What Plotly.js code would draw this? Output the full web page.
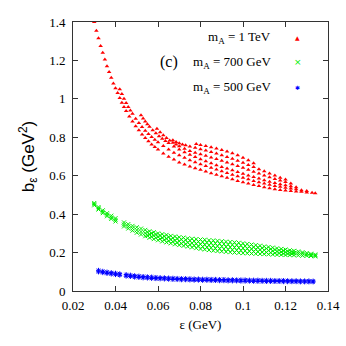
<!DOCTYPE html>
<html>
<head>
<meta charset="utf-8">
<script src="https://cdn.plot.ly/plotly-3.0.1.min.js"></script>
<style>
  html, body { margin: 0; padding: 0; background: #fff; }
  #chart { width: 346px; height: 346px; }
</style>
</head>
<body>
<div id="chart"></div>
<script>
// m_A = 1 TeV : the red band is made of several parallel stripes
const redS1X = [0.030,0.031,0.032,0.033,0.034,0.035,0.036,0.037,0.038,0.039,0.040,0.041,0.042,0.043,0.044,0.045,0.0465,0.048,0.0495,0.051,0.0525,0.054,0.0555,0.057,0.0585,0.060,0.0625,0.065,0.0675,0.070,0.0725,0.075,0.0775,0.080,0.0825,0.085,0.0875,0.090,0.0925,0.095,0.0975,0.100,0.1025,0.105,0.1075,0.110,0.1125,0.115,0.1175,0.120,0.1225,0.125,0.1275,0.130,0.1325,0.134];
const redS1Y = [1.40,1.355,1.315,1.275,1.24,1.205,1.17,1.14,1.11,1.08,1.055,1.03,1.005,0.98,0.958,0.937,0.908,0.882,0.858,0.836,0.815,0.796,0.779,0.763,0.749,0.736,0.716,0.699,0.684,0.669,0.658,0.648,0.639,0.631,0.622,0.613,0.605,0.597,0.589,0.581,0.573,0.566,0.559,0.552,0.546,0.54,0.535,0.53,0.526,0.523,0.52,0.518,0.516,0.513,0.511,0.509];

const redS2X = [0.042,0.043,0.044,0.045,0.046,0.047,0.048,0.0495,0.051,0.0525,0.054,0.0555,0.057,0.0585,0.060,0.0625,0.065,0.0675,0.070,0.0725,0.075,0.0775,0.080,0.0825,0.085,0.0875,0.090,0.0925,0.095,0.0975,0.100,0.1025,0.105,0.1075,0.110,0.1125,0.115,0.1175,0.120,0.1225,0.125,0.1275,0.130];
const redS2Y = [1.05,1.025,1.00,0.978,0.958,0.94,0.922,0.897,0.874,0.853,0.834,0.817,0.801,0.787,0.774,0.754,0.736,0.72,0.706,0.693,0.681,0.67,0.66,0.65,0.641,0.632,0.623,0.614,0.605,0.597,0.589,0.581,0.573,0.566,0.559,0.553,0.547,0.542,0.537,0.533,0.529,0.525,0.521];

const redS3X = [0.052,0.053,0.054,0.055,0.056,0.0575,0.059,0.0605,0.062,0.0635,0.065,0.0675,0.070,0.0725,0.075,0.0775,0.080,0.0825,0.085,0.0875,0.090,0.0925,0.095,0.0975,0.100,0.1025,0.105,0.1075,0.110,0.1125,0.115,0.1175,0.120,0.1225,0.125];
const redS3Y = [0.915,0.898,0.882,0.868,0.855,0.837,0.821,0.806,0.793,0.781,0.77,0.752,0.736,0.722,0.709,0.697,0.686,0.675,0.665,0.655,0.646,0.637,0.628,0.619,0.61,0.601,0.593,0.585,0.577,0.569,0.562,0.556,0.55,0.545,0.54];

const redS4X = [0.0595,0.061,0.0625,0.064,0.0655,0.067,0.0685,0.070,0.0725,0.075,0.0775,0.080,0.0825,0.085,0.0875,0.090,0.0925,0.095,0.0975,0.100,0.1025,0.105,0.1075,0.110,0.1125,0.115,0.1175,0.120,0.1225];
const redS4Y = [0.845,0.826,0.81,0.796,0.783,0.772,0.762,0.753,0.74,0.729,0.72,0.712,0.704,0.695,0.687,0.678,0.669,0.66,0.651,0.641,0.631,0.621,0.611,0.601,0.592,0.583,0.575,0.567,0.56];

const redS5X = [0.067,0.0685,0.070,0.0715,0.073,0.075,0.0775,0.080,0.0825,0.085,0.0875,0.090,0.0925,0.095,0.0975,0.100,0.1025,0.105,0.1075,0.110,0.1125,0.115,0.1175,0.120];
const redS5Y = [0.785,0.776,0.769,0.763,0.758,0.752,0.745,0.738,0.731,0.723,0.715,0.706,0.697,0.688,0.678,0.667,0.656,0.645,0.634,0.623,0.612,0.601,0.59,0.58];

const redS6X = [0.078,0.080,0.0825,0.085,0.0875,0.090,0.0925,0.095,0.0975,0.100,0.1025,0.105];
const redS6Y = [0.765,0.76,0.754,0.748,0.741,0.734,0.726,0.717,0.706,0.694,0.68,0.665];

// m_A = 700 GeV : a wider cloud, typed as five rows
const greenX = [0.030,0.032,0.034,0.036,0.038,0.040,0.044,0.046,0.048,0.050,0.052,0.054,0.056,0.058,0.060,0.062,0.064,0.066,0.068,0.070,0.072,0.074,0.076,0.078,0.080,0.082,0.084,0.086,0.088,0.090,0.092,0.094,0.096,0.098,0.100,0.102,0.104,0.106,0.108,0.110,0.112,0.114,0.116,0.118,0.120,0.122,0.124,0.126,0.128,0.130,0.132,0.134];
const greenMid = [0.452,0.43,0.412,0.397,0.383,0.37,0.346,0.336,0.326,0.317,0.309,0.301,0.294,0.288,0.282,0.277,0.272,0.267,0.263,0.259,0.256,0.252,0.249,0.246,0.243,0.241,0.238,0.236,0.234,0.232,0.23,0.228,0.227,0.225,0.223,0.221,0.219,0.217,0.215,0.213,0.211,0.209,0.206,0.204,0.202,0.2,0.198,0.196,0.194,0.191,0.188,0.185];
const greenHi = [0.458,0.437,0.42,0.405,0.392,0.379,0.357,0.348,0.339,0.332,0.325,0.318,0.311,0.306,0.30,0.296,0.292,0.287,0.284,0.28,0.278,0.274,0.272,0.27,0.268,0.267,0.264,0.263,0.261,0.259,0.257,0.255,0.253,0.251,0.248,0.245,0.242,0.239,0.236,0.232,0.229,0.226,0.222,0.219,0.216,0.212,0.209,0.206,0.202,0.198,0.194,0.19];
const greenLo = [0.446,0.424,0.405,0.389,0.375,0.362,0.336,0.325,0.314,0.303,0.294,0.285,0.277,0.27,0.264,0.258,0.253,0.248,0.243,0.239,0.235,0.231,0.227,0.223,0.219,0.216,0.213,0.21,0.208,0.206,0.204,0.202,0.2,0.199,0.197,0.196,0.195,0.194,0.193,0.192,0.191,0.19,0.189,0.188,0.187,0.187,0.186,0.185,0.184,0.183,0.182,0.18];
const greenX2 = [0.055,0.057,0.059,0.061,0.063,0.065,0.067,0.069,0.071,0.073,0.075,0.077,0.079,0.081,0.083,0.085,0.087,0.089,0.091,0.093,0.095,0.097,0.099,0.101,0.103,0.105,0.107,0.109,0.111,0.113,0.115,0.117,0.119,0.121,0.123];
const greenUpMid = [0.306,0.300,0.294,0.289,0.285,0.281,0.276,0.273,0.269,0.266,0.262,0.26,0.257,0.255,0.252,0.25,0.248,0.246,0.244,0.242,0.24,0.239,0.237,0.234,0.231,0.228,0.226,0.223,0.221,0.218,0.215,0.212,0.21,0.207,0.205];
const greenLoMid = [0.289,0.283,0.277,0.271,0.266,0.261,0.257,0.252,0.248,0.244,0.241,0.237,0.234,0.231,0.228,0.225,0.222,0.22,0.218,0.216,0.214,0.212,0.211,0.209,0.207,0.205,0.204,0.202,0.201,0.199,0.197,0.196,0.194,0.193,0.192];

// m_A = 500 GeV : thin band, two rows
const blueX = [0.032,0.034,0.036,0.038,0.040,0.042,0.045,0.047,0.049,0.051,0.053,0.055,0.057,0.059,0.061,0.063,0.065,0.067,0.069,0.071,0.073,0.075,0.077,0.079,0.081,0.083,0.085,0.087,0.089,0.091,0.093,0.095,0.097,0.099,0.101,0.103,0.105,0.107,0.109,0.111,0.113,0.115,0.117,0.119,0.121,0.123,0.125,0.127,0.129,0.131,0.133];
const blueHi = [0.108,0.103,0.099,0.096,0.093,0.09,0.086,0.083,0.08,0.078,0.076,0.074,0.073,0.071,0.07,0.069,0.068,0.067,0.066,0.065,0.065,0.064,0.063,0.063,0.062,0.062,0.061,0.061,0.06,0.06,0.059,0.059,0.058,0.058,0.058,0.057,0.057,0.057,0.056,0.056,0.056,0.055,0.055,0.055,0.054,0.054,0.054,0.053,0.053,0.053,0.052];
const blueLo = [0.099,0.095,0.091,0.088,0.085,0.082,0.077,0.075,0.072,0.07,0.068,0.067,0.065,0.064,0.063,0.062,0.061,0.06,0.059,0.058,0.058,0.057,0.056,0.056,0.055,0.055,0.054,0.054,0.053,0.053,0.052,0.052,0.052,0.051,0.051,0.051,0.05,0.05,0.05,0.049,0.049,0.049,0.049,0.048,0.048,0.048,0.048,0.047,0.047,0.047,0.047];

const seriesNames = ['m<sub>A</sub> = 1 TeV', 'm<sub>A</sub> = 700 GeV', 'm<sub>A</sub> = 500 GeV'];
const seriesColors = ['#ff0000', '#00ee00', '#0000ff'];

const serif = 'Liberation Serif, Times New Roman, serif';

const redX = [].concat(redS1X, redS2X, redS3X, redS4X, redS5X, redS6X);
const redY = [].concat(redS1Y, redS2Y, redS3Y, redS4Y, redS5Y, redS6Y);
const grnX = [].concat(greenX, greenX, greenX, greenX2, greenX2);
const grnY = [].concat(greenHi, greenMid, greenLo, greenUpMid, greenLoMid);
const bluX = [].concat(blueX, blueX);
const bluY = [].concat(blueHi, blueLo);

const traces = [
  {type:'scatter', mode:'markers', x:redX, y:redY, name:seriesNames[0],
   marker:{symbol:'triangle-up', size:4, color:seriesColors[0]}},
  {type:'scatter', mode:'markers', x:grnX, y:grnY, name:seriesNames[1],
   marker:{symbol:'x-thin-open', size:4, color:seriesColors[1], line:{width:1, color:seriesColors[1]}}},
  {type:'scatter', mode:'markers', x:bluX, y:bluY, name:seriesNames[2],
   marker:{symbol:'asterisk-open', size:4, color:seriesColors[2], line:{width:1, color:seriesColors[2]}}}
];

// legend drawn gnuplot-style: text right aligned, key symbol to its right
const keyGlyphs = ['\u25B2', '\u00D7', '\u2731'];
const keyRows = [0.944, 0.851, 0.755];
const annotations = [];
seriesNames.forEach((name, i) => {
  annotations.push({xref:'paper', yref:'paper', x:0.784, y:keyRows[i], xanchor:'right', yanchor:'middle',
    text:name, showarrow:false, font:{family:serif, size:13, color:'#000'}});
  annotations.push({xref:'paper', yref:'paper', x:0.882, y:keyRows[i], xanchor:'center', yanchor:'middle',
    text:keyGlyphs[i], showarrow:false, font:{family:'DejaVu Sans', size:i===1 ? 9 : 6, color:seriesColors[i]}});
});
annotations.push({xref:'paper', yref:'paper', x:0.376, y:0.851, xanchor:'center', yanchor:'middle',
  text:'(c)', showarrow:false, font:{family:serif, size:16, color:'#000'}});

const axisCommon = {
  showline:true, mirror:'ticks', linecolor:'#333', linewidth:1,
  ticks:'inside', ticklen:5, tickcolor:'#333', showgrid:false, zeroline:false,
  tickfont:{family:serif, size:13, color:'#000'}
};

const layout = {
  width:346, height:346,
  margin:{l:73, r:18, t:22, b:55},
  paper_bgcolor:'#fff', plot_bgcolor:'#fff',
  showlegend:false,
  xaxis:Object.assign({}, axisCommon, {
    range:[0.02, 0.14], dtick:0.02, tick0:0.02, ticklabelstandoff:2,
    title:{text:'\u03B5 (GeV)', font:{family:serif, size:13, color:'#000'}, standoff:8}
  }),
  yaxis:Object.assign({}, axisCommon, {
    range:[0, 1.4], dtick:0.2, tick0:0, ticklabelstandoff:4,
    title:{text:'b<sub>\u03B5</sub> (GeV<sup>2</sup>)', font:{family:'Liberation Sans, Arial, sans-serif', size:17, color:'#000'}, standoff:10}
  }),
  annotations
};

Plotly.newPlot('chart', traces, layout, {displayModeBar:false, staticPlot:true});
</script>
</body>
</html>
